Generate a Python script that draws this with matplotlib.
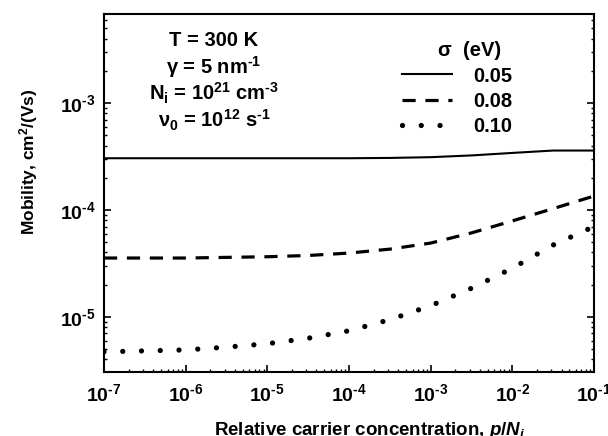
import numpy as np
import matplotlib
matplotlib.use("Agg")
import matplotlib.pyplot as plt
from matplotlib.lines import Line2D
from matplotlib.ticker import LogLocator, FuncFormatter

plt.rcParams.update({
    "font.family": "Liberation Sans",
    "font.weight": "bold",
    "axes.labelweight": "bold",
    "axes.unicode_minus": False,
    "mathtext.fontset": "custom",
    "mathtext.rm": "Liberation Sans:bold",
    "mathtext.it": "Liberation Sans:bold:italic",
    "mathtext.bf": "Liberation Sans:bold",
    "mathtext.default": "regular",
    "lines.scale_dashes": False,
})

HY = "\u2010"  # short hyphen for exponents

# relative carrier concentration p/N_i (half-decade grid)
conc = [1e-7, 3.16e-7, 1e-6, 3.16e-6, 1e-5, 3.16e-5, 1e-4,
        3.16e-4, 1e-3, 3.16e-3, 1e-2, 3.16e-2, 1e-1]
# mobility, cm^2/(Vs), for each disorder parameter sigma
mu_005 = [3.05e-4, 3.05e-4, 3.05e-4, 3.05e-4, 3.05e-4, 3.05e-4, 3.05e-4,
          3.07e-4, 3.12e-4, 3.24e-4, 3.42e-4, 3.6e-4, 3.6e-4]
mu_008 = [3.55e-5, 3.55e-5, 3.55e-5, 3.6e-5, 3.65e-5, 3.75e-5, 3.95e-5,
          4.3e-5, 4.9e-5, 6.1e-5, 7.9e-5, 1.03e-4, 1.35e-4]
mu_010 = [4.7e-6, 4.8e-6, 4.9e-6, 5.2e-6, 5.6e-6, 6.3e-6, 7.4e-6,
          9.4e-6, 1.27e-5, 1.85e-5, 2.85e-5, 4.7e-5, 7.0e-5]
sigmas = ["0.05", "0.08", "0.10"]

params = ["T = 300 K",
          "γ = 5 nm$^{%s1}$" % HY,
          "N$_{i}$ = 10$^{21}$ cm$^{%s3}$" % HY,
          "ν$_{0}$ = 10$^{12}$ s$^{%s1}$" % HY]

FS = 14.5
W, H = 490.0, 358.5  # axes size in pixels


def ax_xy(px, py):
    # pixel position (from the axes' top-left corner) to axes fraction
    return px / W, 1 - py / H


def pow10(v, pos):
    e = int(round(np.log10(v)))
    return "10$^{%s}$" % str(e).replace("-", HY)


fig = plt.figure(figsize=(6.08, 4.36), dpi=100)
ax = fig.add_axes([0.171, 0.147, 0.806, 0.822])

solid = dict(color="black", lw=1.5, ls="-")
dashed = dict(color="black", lw=2.3, ls=(0, (9.5, 7.0)))
dotted = dict(color="black", lw=3.8, ls=(0, (0.01, 13.5)),
              dash_capstyle="round", solid_capstyle="round")

ax.plot(conc, mu_005, **solid)
ax.plot(conc, mu_008, **dashed)
ax.plot(conc, mu_010, **dotted)

ax.set_xscale("log")
ax.set_yscale("log")
ax.set_xlim(1e-7, 1e-1)
ax.set_ylim(3.05e-6, 6.9e-3)

for s in ax.spines.values():
    s.set_linewidth(1.5)
ax.xaxis.set_minor_locator(LogLocator(base=10, subs=np.arange(2, 10), numticks=20))
ax.yaxis.set_minor_locator(LogLocator(base=10, subs=np.arange(2, 10), numticks=20))
ax.xaxis.set_major_formatter(FuncFormatter(pow10))
ax.yaxis.set_major_formatter(FuncFormatter(pow10))
ax.tick_params(which="both", direction="in", top=False, right=True,
               labelsize=14)
ax.tick_params(axis="x", pad=8)
ax.tick_params(axis="y", pad=6)
ax.tick_params(which="major", length=5, width=1.2)
ax.tick_params(which="minor", length=2.5, width=1.0)

ax.set_ylabel(r"Mobility, cm$^{2}$/(Vs)", fontsize=12.5)
ax.yaxis.set_label_coords(-0.131, 0.586)
ax.set_xlabel(r"Relative carrier concentration, $\mathit{p/N_{i}}$", fontsize=13.5)
ax.xaxis.set_label_coords(0.543, -0.133)

# parameter block
for i, t in enumerate(params):
    ax.text(*ax_xy(110, 27 + 26.5 * i), t, transform=ax.transAxes,
            ha="center", va="center", fontsize=FS)

# legend
handles = [Line2D([], [], **solid), Line2D([], [], **dashed),
           Line2D([], [], **dotted)]
ax.text(*ax_xy(366, 37), "σ  (eV)", transform=ax.transAxes,
        ha="center", va="center", fontsize=FS)
ax.legend(handles, sigmas, loc="upper left", bbox_to_anchor=ax_xy(298, 53),
          frameon=False, handlelength=2.48, handletextpad=1.04, labelspacing=0.32,
          borderpad=0, borderaxespad=0, fontsize=FS)

fig.savefig("out.png", dpi=100)
